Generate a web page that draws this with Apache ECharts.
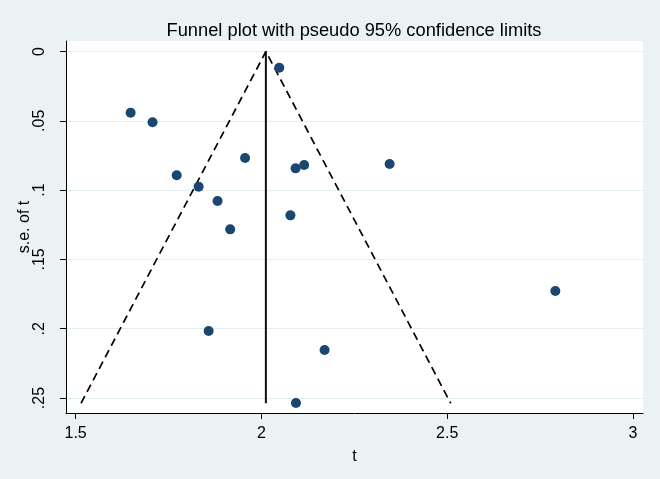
<!DOCTYPE html>
<html>
<head>
<meta charset="utf-8">
<script src="https://cdn.jsdelivr.net/npm/echarts@6/dist/echarts.min.js"></script>
<style>
html,body{margin:0;padding:0;background:#EAF2F3;}
#c{width:660px;height:479px;}
</style>
</head>
<body>
<div id="c"></div>
<script>
// ---- data ----
var tValues  = [2.048, 1.648, 1.707, 1.772, 1.831, 1.956, 1.882, 1.916, 2.092, 2.115, 2.078, 2.345, 1.858, 2.170, 2.093, 2.791];
var seValues = [0.0117, 0.0442, 0.0511, 0.0893, 0.0975, 0.0768, 0.1079, 0.1283, 0.0843, 0.0819, 0.1182, 0.0812, 0.2017, 0.2154, 0.2536, 0.1728];
var pooledEstimate = 2.012;
var maxSE = 0.2538;
var xTickValues = [1.5, 2, 2.5, 3];
var xTickLabels = ['1.5', '2', '2.5', '3'];
var yTickValues = [0, 0.05, 0.1, 0.15, 0.2, 0.25];
var yTickLabels = ['0', '.05', '.1', '.15', '.2', '.25'];

var points = tValues.map(function (t, i) { return [t, seValues[i]]; });
var funnel = [
  [pooledEstimate - 1.96 * maxSE, maxSE],
  [pooledEstimate, 0],
  [pooledEstimate + 1.96 * maxSE, maxSE]
];
var centre = [[pooledEstimate, 0], [pooledEstimate, maxSE]];

function lab(vals, labs) {
  return function (v) {
    for (var i = 0; i < vals.length; i++) if (Math.abs(vals[i] - v) < 1e-9) return labs[i];
    return '';
  };
}

var chart = echarts.init(document.getElementById('c'));
var font = 'Liberation Sans, Arial, sans-serif';
chart.setOption({
  animation: false,
  backgroundColor: '#EAF2F3',
  title: {
    text: 'Funnel plot with pseudo 95% confidence limits',
    left: 349, top: 17, textAlign: 'center',
    textStyle: { fontFamily: font, fontSize: 18.3, fontWeight: 'normal', color: '#000' }
  },
  grid: { left: 66, right: 17, top: 41, bottom: 66, show: true, backgroundColor: '#fff', borderWidth: 0 },
  xAxis: {
    type: 'value', min: 1.4741, max: 3.0269,
    name: 't', nameLocation: 'middle', nameGap: 36,
    nameTextStyle: { fontFamily: font, fontSize: 16, color: '#000' },
    axisLine: { show: true, onZero: false, lineStyle: { color: '#000', width: 1 } },
    axisTick: { show: true, length: 6, customValues: xTickValues, lineStyle: { color: '#000' } },
    axisLabel: { customValues: xTickValues, formatter: lab(xTickValues, xTickLabels), margin: 13,
      fontFamily: font, fontSize: 16, color: '#000', showMinLabel: true, showMaxLabel: true },
    splitLine: { show: false }
  },
  yAxis: {
    type: 'value', inverse: true, min: -0.00758, max: 0.2608,
    name: 's.e. of t', nameLocation: 'middle', nameGap: 33, nameRotate: 90, nameMoveOverlap: false,
    nameTextStyle: { fontFamily: font, fontSize: 16, color: '#000' },
    axisLine: { show: true, onZero: false, lineStyle: { color: '#000', width: 1 } },
    axisTick: { show: true, length: 6, customValues: yTickValues, lineStyle: { color: '#000' } },
    axisLabel: { customValues: yTickValues, formatter: lab(yTickValues, yTickLabels), rotate: 90, margin: 18,
      fontFamily: font, fontSize: 16, color: '#000', showMinLabel: true, showMaxLabel: true },
    splitLine: { show: true, lineStyle: { color: '#E3EEF2', width: 1.2 } }
  },
  series: [
    {
      type: 'line', data: funnel, symbol: 'none',
      lineStyle: { color: '#000', width: 1.7, type: [8, 5] }, z: 3
    },
    {
      type: 'line', data: centre, symbol: 'none',
      lineStyle: { color: '#111', width: 2 }, z: 3
    },
    {
      type: 'scatter', data: points, symbol: 'circle', symbolSize: 10,
      itemStyle: { color: '#1A476F', opacity: 1 }, z: 4
    }
  ]
});
</script>
</body>
</html>
